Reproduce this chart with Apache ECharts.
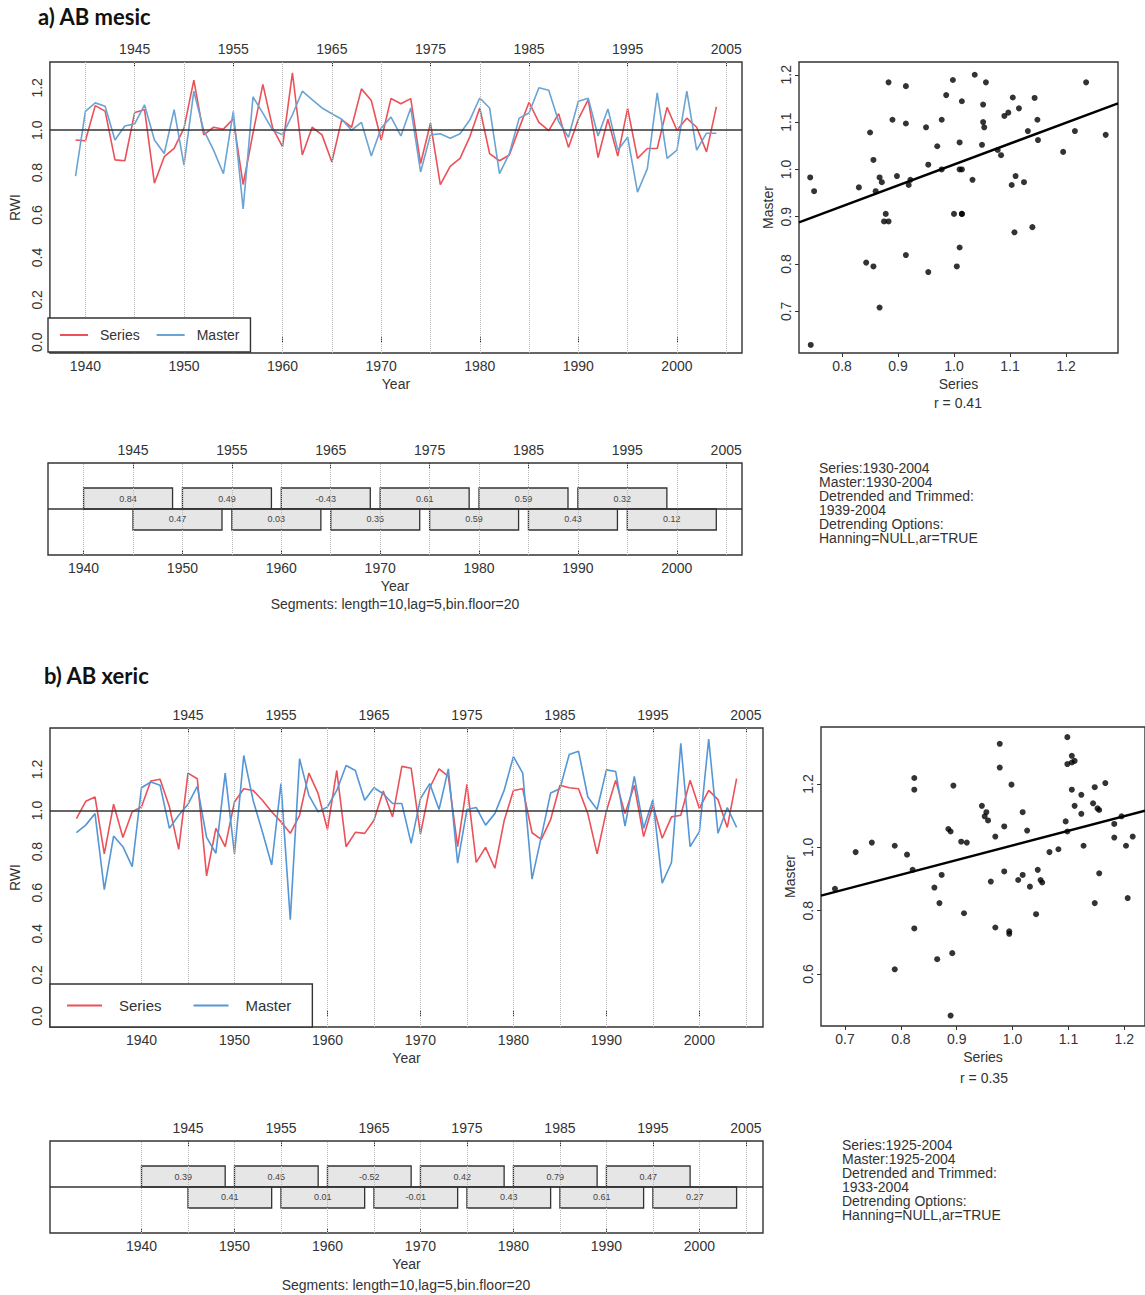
<!DOCTYPE html>
<html><head><meta charset="utf-8">
<script src="https://cdn.jsdelivr.net/npm/echarts@6/dist/echarts.min.js"></script>
<style>html,body{margin:0;padding:0;background:#fff}#c{width:1145px;height:1295px}</style>
</head><body><div id="c"></div>
<script>
// ---------- DATA ----------
const startYearA = 1939;
const seriesA = [0.954,0.95,1.116,1.09,0.86,0.856,1.084,1.097,0.75,0.875,
  0.914,1.01,1.236,0.978,1.014,1.005,1.054,0.744,0.986,1.216,
  1.01,0.922,1.271,0.883,1.014,0.978,0.85,1.05,1.014,1.195,
  1.14,0.954,1.15,1.125,1.149,0.843,1.033,0.743,0.83,0.867,
  0.97,1.105,0.89,0.856,0.883,1.01,1.132,1.037,0.998,1.078,
  0.919,1.052,1.144,0.871,1.052,0.878,1.103,0.867,0.914,0.914,
  1.108,1.0,1.057,1.014,0.898,1.11];
const masterA = [0.783,1.089,1.129,1.113,0.954,1.02,1.03,1.12,0.954,0.89,
  1.097,0.835,1.184,1.0,0.906,0.795,1.089,0.629,1.157,1.081,
  1.0,0.978,1.073,1.184,1.144,1.105,1.078,1.052,1.0,1.037,
  0.878,1.01,1.062,0.973,1.105,0.803,0.978,0.983,0.962,0.983,
  1.049,1.152,1.105,0.795,0.89,1.057,1.081,1.2,1.189,1.041,
  0.967,1.137,1.151,0.973,1.1,0.906,0.967,0.708,0.819,1.176,
  0.867,0.906,1.184,0.906,0.986,0.986];

const startYearB = 1933;
const seriesB = [0.961,1.045,1.066,0.789,1.031,0.869,0.994,1.018,1.144,1.152,
  1.018,0.811,1.182,1.155,0.682,0.913,0.824,1.042,1.106,1.098,
  1.05,0.994,0.945,0.889,0.977,1.182,1.082,0.908,1.195,0.824,
  0.894,0.889,0.953,1.095,0.969,1.215,1.206,0.885,1.111,1.203,
  1.166,0.824,1.127,0.748,0.821,0.719,0.95,1.098,1.106,0.892,
  0.86,0.956,1.123,1.111,1.106,0.985,0.789,0.998,1.147,0.985,
  1.123,0.873,1.026,0.865,0.969,0.977,1.147,1.01,1.098,1.053,
  0.918,1.155];
const masterB = [0.892,0.929,0.985,0.615,0.876,0.824,0.727,1.111,1.139,1.123,
  0.913,0.977,1.031,1.118,0.869,0.792,1.182,0.789,1.268,1.05,
  0.897,0.735,1.131,0.469,1.252,1.074,0.994,1.018,1.098,1.219,
  1.195,1.05,1.111,1.082,1.034,1.034,0.84,1.058,1.131,1.005,
  1.203,0.744,1.005,1.015,0.929,0.985,1.098,1.263,1.182,0.666,
  0.873,1.085,1.106,1.273,1.289,1.066,1.005,1.198,1.19,0.924,
  1.166,0.913,1.053,0.647,0.747,1.327,0.824,0.897,1.348,0.889,
  1.015,0.918];

const segUpperStart = [1940,1950,1960,1970,1980,1990];
const segLowerStart = [1945,1955,1965,1975,1985,1995];
const segLength = 9;
const segUpperA = ['0.84','0.49','-0.43','0.61','0.59','0.32'];
const segLowerA = ['0.47','0.03','0.35','0.59','0.43','0.12'];
const segUpperB = ['0.39','0.45','-0.52','0.42','0.79','0.47'];
const segLowerB = ['0.41','0.01','-0.01','0.43','0.61','0.27'];

const topYearTicks = [1945,1955,1965,1975,1985,1995,2005];
const bottomYearTicks = [1940,1950,1960,1970,1980,1990,2000];
const gridYears = [1940,1945,1950,1955,1960,1965,1970,1975,1980,1985,1990,1995,2000,2005];
const rwiTicks = [0,0.2,0.4,0.6,0.8,1.0,1.2];
const scatterAXTicks = [0.8,0.9,1.0,1.1,1.2];
const scatterAYTicks = [0.7,0.8,0.9,1.0,1.1,1.2];
const scatterBXTicks = [0.7,0.8,0.9,1.0,1.1,1.2];
const scatterBYTicks = [0.6,0.8,1.0,1.2];

const infoA = 'Series:1930-2004\nMaster:1930-2004\nDetrended and Trimmed:\n1939-2004\nDetrending Options:\nHanning=NULL,ar=TRUE';
const infoB = 'Series:1925-2004\nMaster:1925-2004\nDetrended and Trimmed:\n1933-2004\nDetrending Options:\nHanning=NULL,ar=TRUE';
const rA = 'r = 0.41', rB = 'r = 0.35';
const segCaption = 'Segments: length=10,lag=5,bin.floor=20';

// ---------- STYLE ----------
const FONT = 'Liberation Sans';
const TXT = '#333';
const RED = '#ec5059';
const BLUE_A = '#6aa4d4';
const BLUE_B = '#5596d6';

function yearAxis(gridIndex, position, min, max, ticks, name, nameGap) {
  return {type:'value', gridIndex, position, min, max,
    axisLine:{show:false}, splitLine:{show:false},
    axisTick:{show:true, inside:true, length:5, customValues:ticks, lineStyle:{color:'#333', width:1}},
    axisLabel:{customValues:ticks, formatter:v=>String(v), fontSize:14, color:TXT, fontFamily:FONT, margin:6},
    name:name||'', nameLocation:'middle', nameGap:nameGap||0,
    nameTextStyle:{fontSize:14, color:TXT, fontFamily:FONT}};
}
function valAxis(gridIndex, position, min, max, ticks, name, nameGap, rotate, dec, tickOut) {
  return {type:'value', gridIndex, position, min, max,
    axisLine:{show:false}, splitLine:{show:false},
    axisTick:{show:!!tickOut, inside:false, length:4, customValues:ticks, lineStyle:{color:'#333'}},
    axisLabel:{customValues:ticks, formatter:v=>v.toFixed(dec), rotate:rotate, fontSize:14, color:TXT, fontFamily:FONT, margin:6},
    name:name, nameLocation:'middle', nameGap:nameGap, nameRotate: rotate ? 90 : 0,
    nameTextStyle:{fontSize:14, color:TXT, fontFamily:FONT}};
}
function gridDef(left, top, width, height) {
  return {left, top, width, height, show:true, borderColor:'#333', borderWidth:1.4, backgroundColor:'transparent', containLabel:false};
}
function toPairs(start, arr) { return arr.map((v,i)=>[start+i, v]); }
function ols(x, y) {
  const n = x.length; let mx=0,my=0; for (let i=0;i<n;i++){mx+=x[i];my+=y[i];} mx/=n; my/=n;
  let sxy=0,sxx=0; for (let i=0;i<n;i++){sxy+=(x[i]-mx)*(y[i]-my); sxx+=(x[i]-mx)*(x[i]-mx);}
  const b = sxy/sxx; return {a: my-b*mx, b};
}
function gridLineSeries(xi, yi, y0) {
  return {type:'line', xAxisIndex:xi, yAxisIndex:yi, data:[[1970,y0]], symbol:'none', lineStyle:{width:0, opacity:0}, silent:true, z:1,
    markLine:{silent:true, symbol:'none', label:{show:false}, animation:false,
      lineStyle:{type:'dotted', color:'#b8b8b8', width:1},
      data: gridYears.map(y=>({xAxis:y}))}};
}
function hLineSeries(xi, yi, yv, z) {
  return {type:'line', xAxisIndex:xi, yAxisIndex:yi, data:[[1970,yv]], symbol:'none', lineStyle:{width:0, opacity:0}, silent:true, z:z,
    markLine:{silent:true, symbol:'none', label:{show:false}, animation:false,
      lineStyle:{type:'solid', color:'#333', width:1.5},
      data:[{yAxis:yv}]}};
}
function segSeries(xi, yi, starts, labels, y0, y1) {
  return {type:'custom', xAxisIndex:xi, yAxisIndex:yi, silent:true, z:3,
    data: starts.map(s=>[s, s+segLength, y0, y1]),
    encode:{x:[0,1], y:[2,3]},
    renderItem:function(params, api){
      const p0 = api.coord([api.value(0), api.value(3)]);
      const p1 = api.coord([api.value(1), api.value(2)]);
      return {type:'group', children:[
        {type:'rect', shape:{x:p0[0], y:p0[1], width:p1[0]-p0[0], height:p1[1]-p0[1]},
          style:{fill:'#e6e6e6', stroke:'#333', lineWidth:1.3}},
        {type:'text', style:{text:labels[params.dataIndex], x:(p0[0]+p1[0])/2, y:(p0[1]+p1[1])/2,
          align:'center', verticalAlign:'middle', fontSize:9, fontFamily:FONT, fill:'#444'}}
      ]};
    }};
}

// ---------- AXES ----------
const AX = {min:1936.4, max:2006.6}, BX = {min:1930.16, max:2006.84};
const grids = [
  gridDef(48, 62, 694, 291),     // 0 a line
  gridDef(799, 62, 319, 291),    // 1 a scatter
  gridDef(48, 463, 694, 92),     // 2 a segments
  gridDef(50, 728, 713, 299),    // 3 b line
  gridDef(821, 727, 329, 299),   // 4 b scatter
  gridDef(50, 1141, 713, 92)     // 5 b segments
];
const xAxes = [
  yearAxis(0,'bottom',AX.min,AX.max,bottomYearTicks,'Year',24),
  yearAxis(0,'top',AX.min,AX.max,topYearTicks),
  valAxis(1,'bottom',0.723,1.293,scatterAXTicks,'Series',24,0,1,true),
  yearAxis(2,'bottom',AX.min,AX.max,bottomYearTicks,'Year',24),
  yearAxis(2,'top',AX.min,AX.max,topYearTicks),
  yearAxis(3,'bottom',BX.min,BX.max,bottomYearTicks,'Year',24),
  yearAxis(3,'top',BX.min,BX.max,topYearTicks),
  valAxis(4,'bottom',0.657,1.237,scatterBXTicks,'Series',24,0,1,true),
  yearAxis(5,'bottom',BX.min,BX.max,bottomYearTicks,'Year',24),
  yearAxis(5,'top',BX.min,BX.max,topYearTicks)
];
const yAxes = [
  valAxis(0,'left',-0.0508,1.3218,rwiTicks,'RWI',22,90,1,false),
  valAxis(1,'left',0.612,1.227,scatterAYTicks,'Master',24,90,1,true),
  {type:'value', gridIndex:2, min:0, max:1, show:false},
  valAxis(3,'left',-0.0539,1.4019,rwiTicks,'RWI',22,90,1,false),
  valAxis(4,'left',0.436,1.38,scatterBYTicks,'Master',24,90,1,true),
  {type:'value', gridIndex:5, min:0, max:1, show:false}
];

// ---------- SERIES ----------
const fitA = ols(seriesA, masterA), fitB = ols(seriesB, masterB);
const series = [
  gridLineSeries(0,0,1),
  {name:'Series', type:'line', xAxisIndex:0, yAxisIndex:0, data:toPairs(startYearA, seriesA), symbol:'none', lineStyle:{color:RED, width:1.6}, itemStyle:{color:RED}, z:2},
  {name:'Master', type:'line', xAxisIndex:0, yAxisIndex:0, data:toPairs(startYearA, masterA), symbol:'none', lineStyle:{color:BLUE_A, width:1.6}, itemStyle:{color:BLUE_A}, z:2},
  hLineSeries(0,0,1,4),
  {type:'scatter', xAxisIndex:2, yAxisIndex:1, data:seriesA.map((v,i)=>[v, masterA[i]]), symbolSize:6, itemStyle:{color:'#000'}, silent:true},
  {type:'line', xAxisIndex:2, yAxisIndex:1, data:[[0.723, fitA.a+fitA.b*0.723],[1.293, fitA.a+fitA.b*1.293]], symbol:'none', lineStyle:{color:'#000', width:2.4}, silent:true},
  gridLineSeries(3,2,0.5),
  hLineSeries(3,2,0.5,4),
  segSeries(3,2,segUpperStart,segUpperA,0.5,0.728),
  segSeries(3,2,segLowerStart,segLowerA,0.272,0.5),

  gridLineSeries(5,3,1),
  {name:'Series', type:'line', xAxisIndex:5, yAxisIndex:3, data:toPairs(startYearB, seriesB), symbol:'none', lineStyle:{color:RED, width:1.6}, itemStyle:{color:RED}, z:2},
  {name:'Master', type:'line', xAxisIndex:5, yAxisIndex:3, data:toPairs(startYearB, masterB), symbol:'none', lineStyle:{color:BLUE_B, width:1.6}, itemStyle:{color:BLUE_B}, z:2},
  hLineSeries(5,3,1,4),
  {type:'scatter', xAxisIndex:7, yAxisIndex:4, data:seriesB.map((v,i)=>[v, masterB[i]]), symbolSize:6, itemStyle:{color:'#000'}, silent:true},
  {type:'line', xAxisIndex:7, yAxisIndex:4, data:[[0.657, fitB.a+fitB.b*0.657],[1.237, fitB.a+fitB.b*1.237]], symbol:'none', lineStyle:{color:'#000', width:2.4}, silent:true},
  gridLineSeries(8,5,0.5),
  hLineSeries(8,5,0.5,4),
  segSeries(8,5,segUpperStart,segUpperB,0.5,0.728),
  segSeries(8,5,segLowerStart,segLowerB,0.272,0.5)
];

// ---------- TEXT ----------
function txt(x, y, text, opt) {
  return Object.assign({type:'text', x, y, silent:true, z:10,
    style:Object.assign({text, fontSize:14, fontFamily:FONT, fill:TXT, align:'center', verticalAlign:'middle'}, opt||{})});
}
const graphic = [
  txt(38, 16, 'a) AB mesic', {align:'left', fontSize:22, fontWeight:'bold', fontFamily:'Lato', fill:'#111'}),
  txt(44, 675, 'b) AB xeric', {align:'left', fontSize:22, fontWeight:'bold', fontFamily:'Lato', fill:'#111'}),
  txt(819, 461, infoA, {align:'left', verticalAlign:'top', lineHeight:14}),
  txt(842, 1138, infoB, {align:'left', verticalAlign:'top', lineHeight:14}),
  txt(958, 403, rA),
  txt(984, 1078, rB),
  txt(395, 604, segCaption),
  txt(406, 1285, segCaption)
];

// ---------- LEGENDS ----------
function legendDef(left, top, pad, iw, gap, fs, txtPad, blue) {
  return {left, top, orient:'horizontal', padding:pad, itemWidth:iw, itemHeight:2, itemGap:gap, icon:'rect',
    backgroundColor:'#fff', borderColor:'#333', borderWidth:1.4, borderRadius:0, selectedMode:false, z:8,
    textStyle:{fontSize:fs, color:TXT, fontFamily:FONT, padding:[0,0,0,txtPad]},
    data:[{name:'Series', icon:'rect', itemStyle:{color:RED}},
          {name:'Master', icon:'rect', itemStyle:{color:blue}}]};
}

const option = {
  animation:false,
  backgroundColor:'#fff',
  grid:grids, xAxis:xAxes, yAxis:yAxes, series,
  legend:[legendDef(48, 318, [10,11,10,12], 28, 17, 14, 7, BLUE_A),
          legendDef(50, 984, [14,21,14,17], 35, 32, 15, 12, BLUE_B)],
  graphic
};
const chart = echarts.init(document.getElementById('c'), null, {renderer:'svg', width:1145, height:1295});
chart.setOption(option);
</script>
</body></html>
